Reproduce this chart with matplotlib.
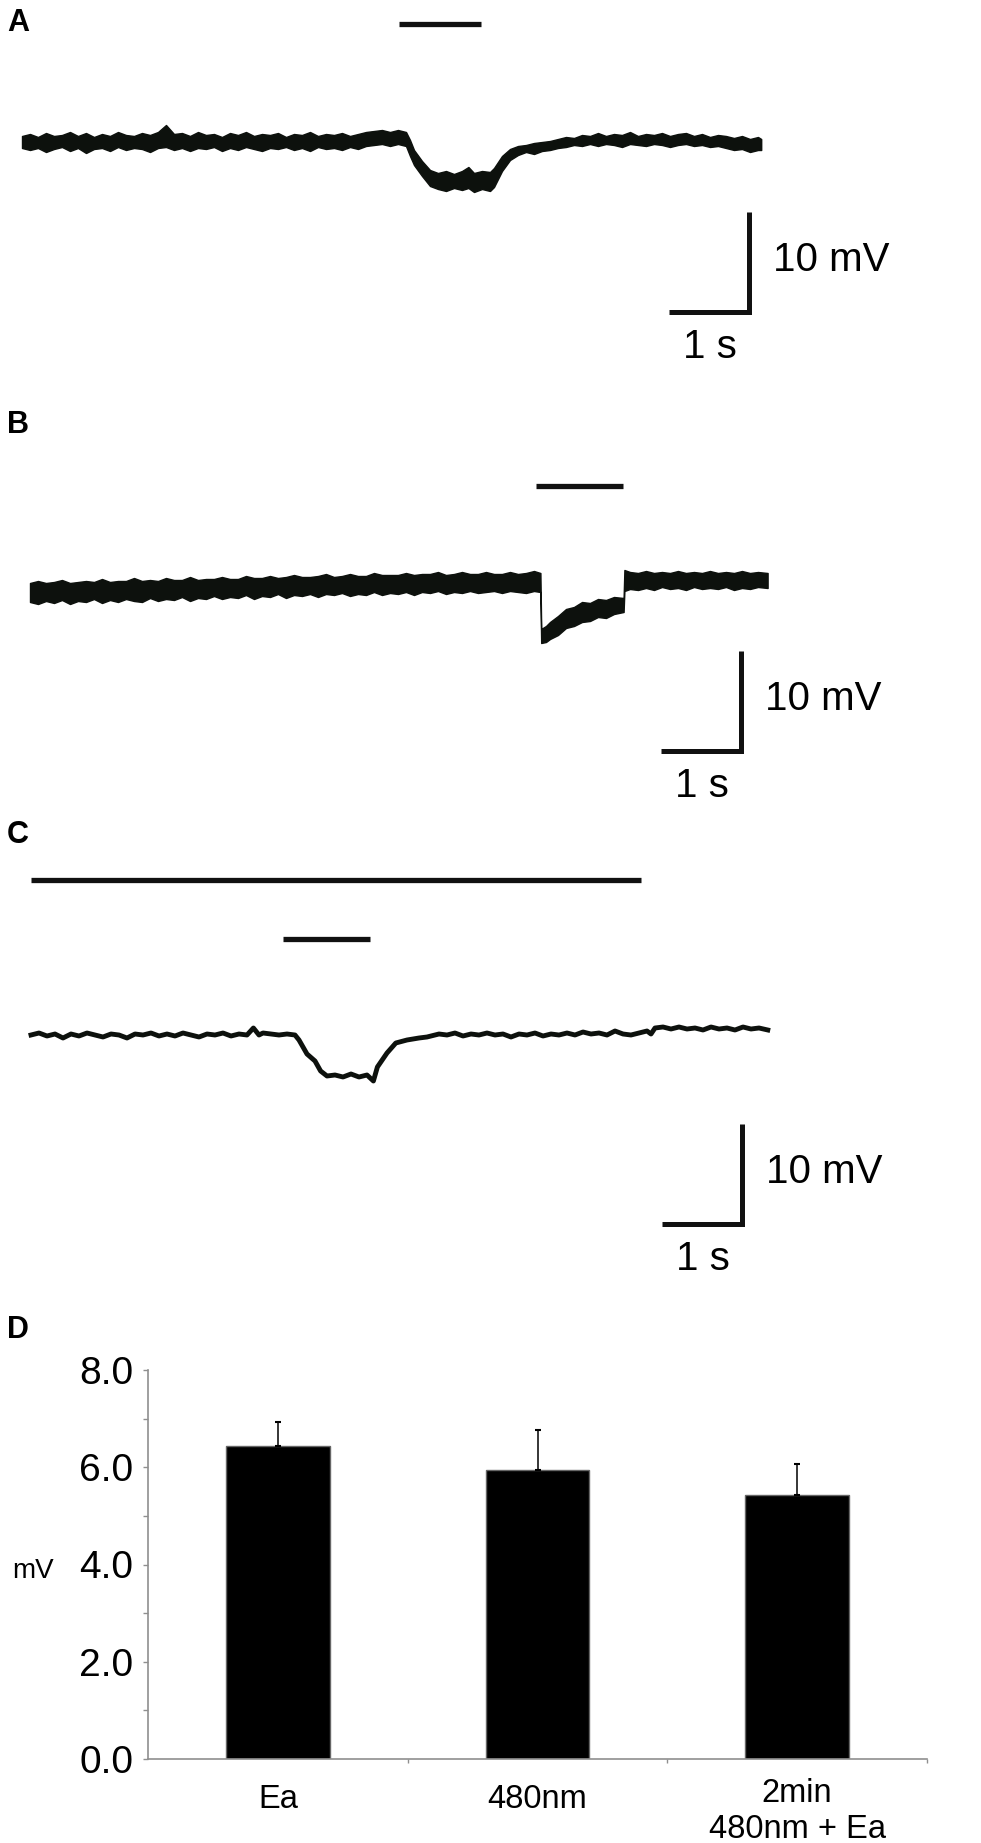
import matplotlib
matplotlib.use("Agg")
import matplotlib.pyplot as plt
import matplotlib.transforms as mtransforms
from matplotlib.ticker import FixedLocator, FuncFormatter

plt.rcParams['font.family'] = ['Liberation Sans', 'DejaVu Sans']

# ---------------- data ----------------
# Panel A: membrane potential envelope (mV, relative to rest) vs time (s)
a_time = [0.0, 0.1, 0.2, 0.3, 0.4, 0.5, 0.6, 0.7, 0.8, 0.9,
          1.0, 1.1, 1.2, 1.3, 1.4, 1.5, 1.6, 1.7, 1.8, 1.9,
          2.0, 2.1, 2.2, 2.3, 2.4, 2.5, 2.6, 2.7, 2.8, 2.9,
          3.0, 3.1, 3.2, 3.3, 3.4, 3.5, 3.6, 3.7, 3.8, 3.9,
          4.0, 4.1, 4.2, 4.3, 4.4, 4.5, 4.6, 4.7, 4.8,
          4.85, 4.9, 5.0, 5.1, 5.2, 5.3, 5.4, 5.5, 5.58, 5.65, 5.75, 5.85, 5.9, 6.0, 6.1,
          6.2, 6.3, 6.4, 6.5, 6.6, 6.7, 6.8, 6.9, 7.0, 7.1,
          7.2, 7.3, 7.4, 7.5, 7.6, 7.7, 7.8, 7.9, 8.0, 8.1,
          8.2, 8.3, 8.4, 8.5, 8.6, 8.7, 8.8, 8.9, 9.0, 9.1,
          9.2, 9.24]
a_upper = [0.6, 0.8, 0.5, 0.9, 0.6, 0.7, 1.0, 0.6, 0.9, 0.5,
           0.8, 0.6, 1.0, 0.7, 0.6, 0.9, 0.7, 1.0, 1.7, 0.8,
           0.9, 0.6, 1.0, 0.7, 0.8, 0.5, 0.9, 0.7, 1.0, 0.6,
           0.8, 0.7, 0.9, 0.5, 0.8, 0.7, 1.0, 0.6, 0.8, 0.7,
           0.9, 0.6, 0.8, 1.0, 1.1, 1.2, 1.0, 1.2, 1.0,
           0.2, -0.8, -1.9, -2.8, -3.1, -2.9, -3.2, -2.9, -2.5, -3.1, -2.9, -3.0, -2.6, -1.4, -0.7,
           -0.4, -0.3, -0.1, 0.0, 0.1, 0.3, 0.5, 0.4, 0.7, 0.6,
           0.9, 0.6, 0.8, 0.7, 1.0, 0.6, 0.8, 0.7, 0.9, 0.6,
           0.8, 0.9, 0.6, 0.8, 0.5, 0.7, 0.6, 0.4, 0.6, 0.3,
           0.5, 0.3]
a_lower = [-0.6, -0.8, -0.6, -1.0, -0.7, -0.5, -0.9, -0.6, -1.1, -0.7,
           -0.6, -0.9, -0.5, -0.8, -0.6, -0.7, -1.0, -0.6, -0.5, -0.8,
           -0.6, -0.9, -0.6, -0.7, -0.5, -0.9, -0.6, -0.8, -0.5, -0.7,
           -0.9, -0.6, -0.7, -0.5, -0.8, -0.6, -0.9, -0.5, -0.7, -0.6,
           -0.8, -0.5, -0.7, -0.4, -0.3, -0.2, -0.4, -0.2, -0.4,
           -1.4, -2.3, -3.4, -4.4, -4.7, -4.9, -4.6, -4.8, -4.6, -5.0, -4.7, -4.9, -4.5, -2.9, -1.8,
           -1.3, -1.0, -1.2, -0.9, -0.8, -0.6, -0.5, -0.3, -0.4, -0.2,
           -0.4, -0.2, -0.3, -0.5, -0.2, -0.3, -0.4, -0.2, -0.3, -0.5,
           -0.3, -0.2, -0.4, -0.3, -0.5, -0.4, -0.6, -0.8, -0.7, -1.0,
           -0.8, -0.8]
a_stim = [4.71, 5.74]

# Panel B
b_time = [0.0, 0.1, 0.2, 0.3, 0.4, 0.5, 0.6, 0.7, 0.8, 0.9,
          1.0, 1.1, 1.2, 1.3, 1.4, 1.5, 1.6, 1.7, 1.8, 1.9,
          2.0, 2.1, 2.2, 2.3, 2.4, 2.5, 2.6, 2.7, 2.8, 2.9,
          3.0, 3.1, 3.2, 3.3, 3.4, 3.5, 3.6, 3.7, 3.8, 3.9,
          4.0, 4.1, 4.2, 4.3, 4.4, 4.5, 4.6, 4.7, 4.8, 4.9,
          5.0, 5.1, 5.2, 5.3, 5.4, 5.5, 5.6, 5.7, 5.8, 5.9,
          6.0, 6.1, 6.2, 6.3, 6.38,
          6.39, 6.45, 6.5, 6.6, 6.7, 6.8, 6.9, 7.0, 7.1, 7.2, 7.3, 7.42,
          7.43, 7.5, 7.6, 7.7, 7.8, 7.9, 8.0, 8.1, 8.2, 8.3,
          8.4, 8.5, 8.6, 8.7, 8.8, 8.9, 9.0, 9.1, 9.22]
b_upper = [1.0, 1.2, 1.0, 1.1, 1.3, 1.0, 1.1, 1.2, 1.1, 1.4,
           1.1, 1.2, 1.2, 1.5, 1.2, 1.3, 1.2, 1.5, 1.3, 1.3,
           1.6, 1.3, 1.4, 1.4, 1.6, 1.4, 1.4, 1.7, 1.5, 1.5,
           1.7, 1.5, 1.6, 1.8, 1.6, 1.6, 1.7, 1.9, 1.6, 1.7,
           1.9, 1.7, 1.7, 2.0, 1.8, 1.8, 1.8, 2.0, 1.8, 1.9,
           1.9, 2.1, 1.8, 1.9, 2.1, 1.9, 1.9, 2.1, 1.9, 1.9,
           2.1, 1.9, 2.0, 2.2, 2.0,
           -3.6, -3.3, -2.9, -2.3, -1.6, -1.4, -0.9, -1.0, -0.6, -0.7, -0.4, -0.5,
           2.3, 2.1, 2.0, 2.2, 2.0, 2.1, 2.0, 2.2, 2.0, 2.1,
           2.0, 2.2, 2.0, 2.1, 2.0, 2.2, 2.0, 2.1, 2.0]
b_lower = [-0.9, -1.1, -0.8, -1.0, -0.7, -1.1, -0.8, -0.9, -0.6, -1.0,
           -0.7, -0.9, -0.6, -0.8, -0.9, -0.5, -0.8, -0.6, -0.7, -0.4,
           -0.8, -0.5, -0.6, -0.3, -0.6, -0.4, -0.5, -0.2, -0.6, -0.3,
           -0.4, -0.1, -0.5, -0.2, -0.3, -0.1, -0.4, -0.1, -0.2, 0.0,
           -0.3, -0.1, -0.2, 0.1, -0.2, 0.0, -0.1, 0.1, -0.2, 0.1,
           0.0, 0.2, -0.1, 0.1, 0.0, 0.2, 0.0, 0.1, 0.2, 0.0,
           0.2, 0.1, 0.0, 0.2, 0.1,
           -5.0, -4.9, -4.6, -4.2, -3.5, -3.3, -2.9, -2.8, -2.4, -2.5, -2.1, -1.9,
           0.2, 0.4, 0.3, 0.5, 0.3, 0.6, 0.4, 0.5, 0.3, 0.6,
           0.4, 0.5, 0.4, 0.6, 0.3, 0.5, 0.4, 0.6, 0.5]
b_stim = [6.325, 7.41]

# Panel C
c_time = [0.0, 0.1, 0.2, 0.3, 0.4, 0.5, 0.6, 0.7, 0.8, 0.9, 1.0, 1.1, 1.2, 1.3, 1.4,
          1.5, 1.6, 1.7, 1.8, 1.9, 2.0, 2.1, 2.2, 2.3, 2.4, 2.5, 2.6, 2.7, 2.78, 2.85,
          2.9, 3.0, 3.1, 3.2, 3.3, 3.35, 3.45, 3.55, 3.62, 3.7, 3.8, 3.9, 4.0, 4.1, 4.2,
          4.28, 4.33, 4.45, 4.56, 4.7, 4.85, 4.95, 5.1, 5.2, 5.3, 5.4, 5.5, 5.6, 5.7, 5.8,
          5.9, 6.0, 6.1, 6.2, 6.3, 6.4, 6.5, 6.6, 6.7, 6.8, 6.9, 7.0, 7.1, 7.2, 7.3,
          7.4, 7.5, 7.6, 7.7, 7.75, 7.8, 7.9, 8.0, 8.1, 8.2, 8.3, 8.4, 8.5, 8.6, 8.7,
          8.8, 8.9, 9.0, 9.1, 9.21]
c_volt = [0.0, 0.2, -0.1, 0.1, -0.3, 0.1, -0.1, 0.2, 0.0, -0.2, 0.1, 0.0, -0.3, 0.1, 0.0,
          0.2, -0.1, 0.1, -0.1, 0.2, 0.0, -0.2, 0.1, 0.0, 0.2, -0.1, 0.1, 0.0, 0.7, 0.0,
          0.2, 0.1, 0.0, 0.1, 0.0, -0.5, -1.9, -2.6, -3.6, -4.1, -4.0, -4.2, -3.9, -4.2, -4.0,
          -4.6, -3.2, -1.8, -0.8, -0.5, -0.3, -0.2, 0.1, 0.0, 0.2, -0.1, 0.1, 0.0, 0.2, 0.0,
          0.1, -0.2, 0.1, 0.0, 0.2, -0.1, 0.1, 0.0, 0.2, 0.0, 0.3, 0.1, 0.2, 0.0, 0.4,
          0.1, 0.0, 0.2, 0.4, 0.1, 0.7, 0.8, 0.6, 0.8, 0.6, 0.7, 0.5, 0.8, 0.6, 0.7,
          0.5, 0.8, 0.6, 0.7, 0.5]
c_stim_long = [0.0, 7.625]
c_stim_short = [3.15, 4.24]

# Scale bars
scale_t = 1.0      # s
scale_mv = 10.0    # mV

# Panel D: bar chart
categories = ["Ea", "480nm", "2min\n480nm + Ea"]
means = [6.44, 5.95, 5.43]
sems = [0.49, 0.81, 0.64]
yticks_major = [0, 2, 4, 6, 8]
yticks_minor = [1, 3, 5, 7]

# ---------------- layout ----------------
W, H, DPI = 981, 1843, 100
PX_S, PX_MV = 80.0, 10.0
TRACE = '#0d110d'

fig = plt.figure(figsize=(W / DPI, H / DPI), dpi=DPI)


def fy(ypx):
    return 1 - ypx / H


def trace_axes(top, bottom, x0, y0):
    ax = fig.add_axes([0, fy(bottom), 1, (bottom - top) / H])
    ax.set_xlim(-x0 / PX_S, (W - x0) / PX_S)
    ax.set_ylim((y0 - bottom) / PX_MV, (y0 - top) / PX_MV)
    ax.axis('off')
    return ax


def scale_bar(ax, t, v):
    ax.plot([t - scale_t, t, t], [v, v, v + scale_mv], color='#111111', lw=3.6,
            solid_joinstyle='miter', solid_capstyle='butt')
    ax.text(t + 0.3, v + 4.1, "10 mV", fontsize=29, ha='left', va='baseline')
    ax.text(t - 0.49, v - 4.6, "1 s", fontsize=29, ha='center', va='baseline')


def stim(ax, span, v):
    ax.plot(span, [v, v], color='#111111', lw=3.8, solid_capstyle='butt')


# Panel A
axA = trace_axes(0, 380, 22, 142)
axA.fill_between(a_time, a_lower, a_upper, color=TRACE, lw=1.0, edgecolor=TRACE)
stim(axA, a_stim, 11.8)
scale_bar(axA, 9.0875, -17.0)

# Panel B
axB = trace_axes(380, 820, 30, 593)
axB.fill_between(b_time, b_lower, b_upper, color=TRACE, lw=1.0, edgecolor=TRACE)
stim(axB, b_stim, 10.7)
scale_bar(axB, 8.8875, -15.8)

# Panel C
axC = trace_axes(800, 1300, 31, 1035)
axC.plot(c_time, c_volt, color=TRACE, lw=3.5, solid_joinstyle='round')
stim(axC, c_stim_long, 15.5)
stim(axC, c_stim_short, 9.6)
scale_bar(axC, 8.8875, -18.9)

# Panel D
left, right, y0px, y8px = 148, 927, 1759, 1370
axD = fig.add_axes([left / W, fy(y0px), (right - left) / W, (y0px - y8px) / H])
xc = [i + 0.5 for i in range(len(categories))]
axD.bar(xc, means, width=0.40, color='black', edgecolor='#666666', lw=1.0, zorder=2)
axD.errorbar(xc, means, yerr=[[0] * len(sems), sems], fmt='none', ecolor='black',
             elinewidth=1.1, capsize=2.5, capthick=1.5, zorder=3)
axD.set_xlim(0, len(categories))
axD.set_ylim(0, 8)
for s in ['top', 'right']:
    axD.spines[s].set_visible(False)
for s in ['left', 'bottom']:
    axD.spines[s].set_color('#8f8f8f')
    axD.spines[s].set_linewidth(1.2)
axD.yaxis.set_major_locator(FixedLocator(yticks_major))
axD.yaxis.set_minor_locator(FixedLocator(yticks_minor))
axD.yaxis.set_major_formatter(FuncFormatter(lambda v, p: f"{v:.1f}"))
axD.tick_params(axis='y', which='both', direction='out', length=3.5, width=1.0,
                color='#8f8f8f', labelsize=28, pad=7)
axD.xaxis.set_major_locator(FixedLocator([1, 2, 3]))
axD.tick_params(axis='x', which='major', direction='out', length=3, width=1.0,
                color='#8f8f8f', labelbottom=False)

blend = mtransforms.blended_transform_factory(axD.transData, fig.transFigure)
for x, lab in zip(xc, categories):
    lines = lab.split("\n")
    if len(lines) == 1:
        axD.text(x, fy(1808), lines[0], transform=blend, fontsize=23.5,
                 ha='center', va='baseline')
    else:
        base = 1838 - 36 * (len(lines) - 1)
        for k, ln in enumerate(lines):
            axD.text(x, fy(base + 36 * k), ln, transform=blend, fontsize=23.5,
                     ha='center', va='baseline')

fig.text(12 / W, fy(1578), "mV", fontsize=20, ha='left', va='baseline')

# Panel letters
for lab, ypx in [("A", 31), ("B", 433), ("C", 843), ("D", 1338)]:
    fig.text(7 / W, fy(ypx), lab, fontsize=22, fontweight='bold', ha='left', va='baseline')

fig.savefig("out.png", dpi=DPI)
